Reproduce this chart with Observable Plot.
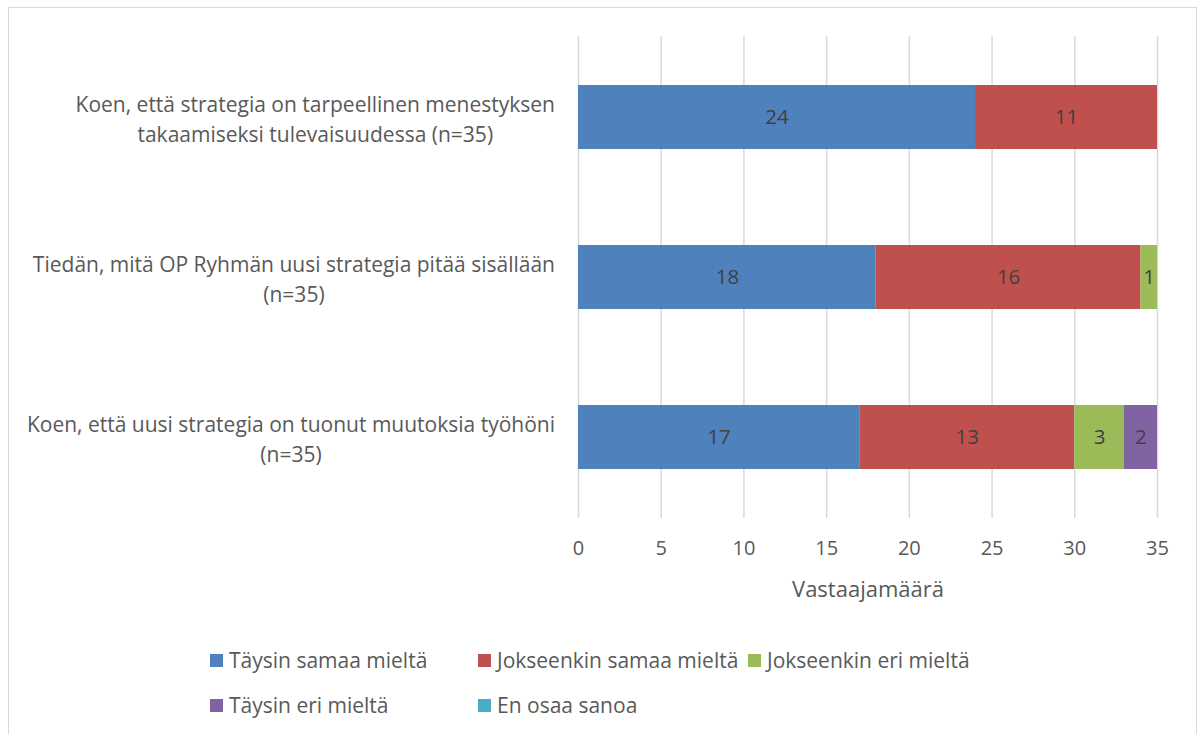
<!DOCTYPE html>
<html>
<head>
<meta charset="utf-8">
<script src="https://cdn.jsdelivr.net/npm/d3@7"></script>
<script src="https://cdn.jsdelivr.net/npm/@observablehq/plot@0.6"></script>
<style>
  html, body { margin: 0; padding: 0; background: #fff; }
  body { width: 1203px; height: 734px; position: relative; overflow: hidden; font-family: "Open Sans", sans-serif; }
  #frame { position: absolute; left: 8px; top: 7px; width: 1189px; height: 760px; border: 1.5px solid #d9d9d9; box-sizing: border-box; }
  #chart { position: absolute; left: 0; top: 0; }
  #legend { position: absolute; left: 210px; top: 649px; display: grid; grid-template-columns: 268px 270px auto; row-gap: 23px; font-size: 21px; color: #595959; }
  .item { display: flex; align-items: center; height: 22px; white-space: nowrap; }
  .sw { width: 13px; height: 13px; margin-right: 6px; flex: none; }
</style>
</head>
<body>
<div id="frame"></div>
<div id="chart"></div>
<div id="legend"></div>
<script>
// Categories (y), top to bottom
const categories = [
  "Koen, että strategia on tarpeellinen menestyksen\ntakaamiseksi tulevaisuudessa (n=35)",
  "Tiedän, mitä OP Ryhmän uusi strategia pitää sisällään\n(n=35)",
  "Koen, että uusi strategia on tuonut muutoksia työhöni\n(n=35)"
];
// Response options (series)
const responses = ["Täysin samaa mieltä", "Jokseenkin samaa mieltä", "Jokseenkin eri mieltä", "Täysin eri mieltä", "En osaa sanoa"];
const colors = ["#4F81BD", "#C0504D", "#9BBB59", "#8064A2", "#4BACC6"];
// Values per series, aligned with categories
const taysinSamaa = [24, 18, 17];
const jokseenkinSamaa = [11, 16, 13];
const jokseenkinEri = [0, 1, 3];
const taysinEri = [0, 0, 2];
const enOsaa = [0, 0, 0];
const xTicks = [0, 5, 10, 15, 20, 25, 30, 35];
const xLabel = "Vastaajamäärä";

const seriesValues = [taysinSamaa, jokseenkinSamaa, jokseenkinEri, taysinEri, enOsaa];
const data = [];
responses.forEach((r, i) => {
  categories.forEach((c, j) => data.push({cat: c, resp: r, value: seriesValues[i][j]}));
});
const nonzero = data.filter(d => d.value > 0);

const plot = Plot.plot({
  width: 1203,
  height: 625,
  marginLeft: 578,
  marginRight: 46,
  marginTop: 36,
  marginBottom: 107,
  style: {fontFamily: "Open Sans, sans-serif", color: "#595959", background: "transparent"},
  x: {domain: [0, 35], ticks: xTicks, label: null},
  y: {domain: categories, paddingInner: 0.6, paddingOuter: 0.3, label: null, axis: null},
  color: {domain: responses, range: colors},
  marks: [
    Plot.gridX(xTicks, {stroke: "#d9d9d9", strokeOpacity: 1, strokeWidth: 1.5}),
    Plot.axisX({ticks: xTicks, tickSize: 0, tickPadding: 22, fontSize: 20, fill: "#595959", label: null}),
    Plot.barX(data, Plot.stackX({x: "value", y: "cat", fill: "resp", order: responses})),
    Plot.text(nonzero, Plot.stackX({x: "value", y: "cat", z: "resp", order: responses, text: d => String(d.value), fontSize: 20.5, fill: "#404040"})),
    Plot.text(categories, {y: d => d, text: d => d, frameAnchor: "left", textAnchor: "middle", fontSize: 21, fill: "#595959", lineHeight: 1.4, className: "catlabel"}),
    Plot.text([xLabel], {frameAnchor: "bottom", dy: 78, fontSize: 22, fill: "#595959"})
  ]
});
document.getElementById("chart").appendChild(plot);

// right-align each category text block at 555px, with its lines centred on each other
const rightEdge = 555;
d3.select(plot).selectAll("g.catlabel text").each(function() {
  const bb = this.getBBox();
  const ctm = this.getCTM();
  const absRight = ctm.e + bb.x + bb.width;
  const shift = rightEdge - absRight;
  const t = d3.select(this);
  const old = t.attr("transform") || "";
  t.attr("transform", `translate(${shift},0) ` + old);
});

// legend
const legend = d3.select("#legend");
responses.forEach((r, i) => {
  const it = legend.append("div").attr("class", "item");
  it.append("div").attr("class", "sw").style("background", colors[i]);
  it.append("span").text(r);
});
</script>
</body>
</html>
